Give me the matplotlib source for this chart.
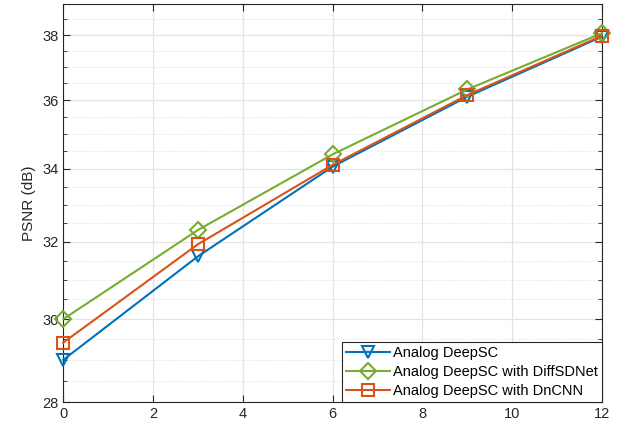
import numpy as np
import matplotlib
matplotlib.use("Agg")
import matplotlib.pyplot as plt
from matplotlib.ticker import FixedLocator, NullFormatter, FuncFormatter

# values
snr = [0, 3, 6, 9, 12]
psnr_deepsc = [29.0, 31.61, 34.06, 36.10, 37.95]
psnr_diffsdnet = [30.0, 32.31, 34.41, 36.32, 38.06]
psnr_dncnn = [29.42, 31.93, 34.11, 36.15, 37.98]

labels = ["Analog DeepSC", "Analog DeepSC with DiffSDNet", "Analog DeepSC with DnCNN"]
x_ticks = [0, 2, 4, 6, 8, 10, 12]
y_ticks = [28, 30, 32, 34, 36, 38]
y_minor = [v / 2 for v in range(56, 79) if v % 4 != 0]

plt.rcParams["font.family"] = ["Liberation Sans", "DejaVu Sans"]

fig = plt.figure(figsize=(6.2, 4.3), dpi=100)
ax = fig.add_axes([0.102, 0.065, 0.869, 0.926])

ax.plot(snr, psnr_deepsc, color="#0072BD", lw=1.5, marker="v", ms=9,
        mfc="none", mew=1.5, label=labels[0], clip_on=False, zorder=3)
ax.plot(snr, psnr_diffsdnet, color="#77AC30", lw=1.5, marker="D", ms=8,
        mfc="none", mew=1.5, label=labels[1], clip_on=False, zorder=3)
ax.plot(snr, psnr_dncnn, color="#D95319", lw=1.5, marker="s", ms=8,
        mfc="none", mew=1.5, label=labels[2], clip_on=False, zorder=3)

ax.set_yscale("log")
ax.set_xlim(0, 12)
ax.set_ylim(28, 39)
ax.set_xticks(x_ticks)
ax.yaxis.set_major_locator(FixedLocator(y_ticks))
ax.yaxis.set_minor_locator(FixedLocator(y_minor))
ax.yaxis.set_major_formatter(FuncFormatter(lambda v, p: f"{v:g}"))
ax.yaxis.set_minor_formatter(NullFormatter())

ax.grid(True, which="major", color="#e3e3e3", lw=0.9, ls="-")
ax.grid(True, which="minor", axis="y", color="#d8d8d8", lw=0.7, ls=(0, (1, 2)))
ax.set_axisbelow(True)

ax.tick_params(which="both", direction="in", top=True, right=True,
               colors="#262626", labelsize=10.5)
ax.tick_params(which="minor", length=3)
ax.tick_params(which="major", length=5)
for s in ax.spines.values():
    s.set_color("#262626")
    s.set_linewidth(0.8)

ax.set_ylabel("PSNR (dB)", fontsize=11, color="#262626")

leg = ax.legend(loc="lower right", fontsize=10.5, fancybox=False, framealpha=1,
                borderaxespad=0, handlelength=3.0, handletextpad=0.2,
                labelspacing=0.32, borderpad=0.3)
leg.get_frame().set_edgecolor("#262626")
leg.get_frame().set_linewidth(0.8)
leg.set_zorder(5)

fig.savefig("out.png", dpi=100)
